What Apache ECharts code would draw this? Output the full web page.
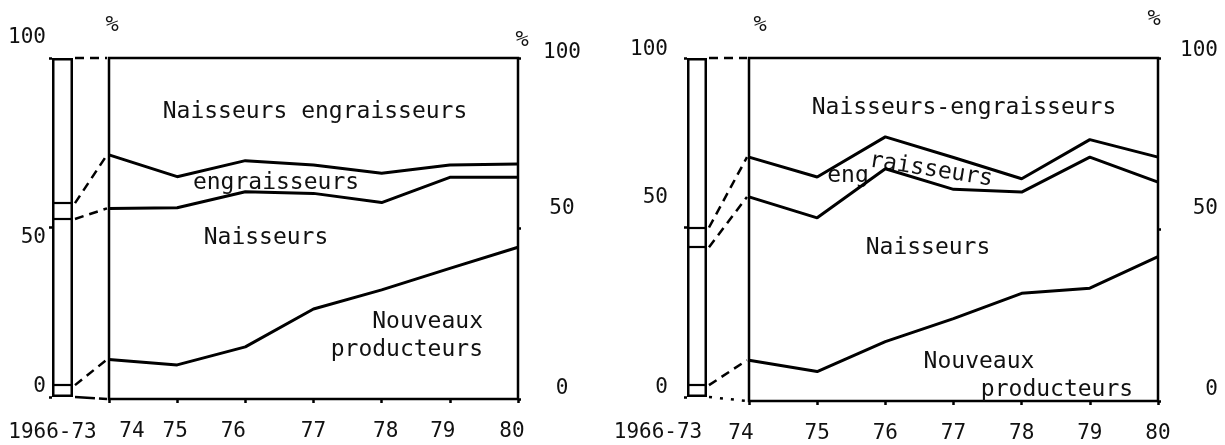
<!DOCTYPE html>
<html><head><meta charset="utf-8">
<script src="https://cdn.jsdelivr.net/npm/echarts@6/dist/echarts.min.js"></script>
<style>html,body{margin:0;padding:0;background:#fff}#c{width:1225px;height:445px}</style>
</head><body><div id="c"></div>
<script>
// ---- data ----
const years = [74, 75, 76, 77, 78, 79, 80];
const periodLabel = '1966-73';
const yTicks = [0, 50, 100];
// left panel: cumulative boundaries (%)
const leftNouveaux = [11.6, 10.0, 15.3, 26.4, 32.0, 38.3, 44.5];
const leftNaisseurs = [55.9, 56.1, 60.8, 60.3, 57.6, 65.0, 65.0];
const leftEngraisseurs = [71.6, 65.2, 69.9, 68.6, 66.2, 68.6, 68.9];
const leftBar = [3.5, 52.5, 57.2];
// right panel: cumulative boundaries (%)
const rightNouveaux = [11.9, 8.6, 17.3, 24.0, 31.4, 32.9, 42.1];
const rightNaisseurs = [59.5, 53.4, 67.7, 61.7, 60.9, 71.1, 63.8];
const rightEngraisseurs = [71.1, 65.3, 77.0, 71.0, 64.8, 76.2, 71.1];
const rightBar = [3.5, 44.2, 50.0];

// ---- layout ----
const FONT = '"DejaVu Sans Mono", monospace';
const L = { bar: {left: 52, top: 58, width: 21, height: 339}, main: {left: 109, top: 58, width: 409, height: 341} };
const R = { bar: {left: 687, top: 58, width: 20, height: 339}, main: {left: 749, top: 58, width: 409, height: 343} };

const chart = echarts.init(document.getElementById('c'), null, {renderer: 'canvas'});

function vPad(d) { return d < 0 ? [0, 0, -2 * d, 0] : [2 * d, 0, 0, 0]; }
function hPad(d) { return d < 0 ? [0, -2 * d, 0, 0] : [0, 0, 0, 2 * d]; }
function richFor(keys, shifts, padFn) {
  const r = {};
  keys.forEach(v => {
    r['s' + v] = { fontSize: 21, fontFamily: FONT, color: '#111', padding: padFn(shifts[v] || 0) };
  });
  return r;
}
function grid(g, border) {
  return Object.assign({ outerBoundsMode: 'none', containLabel: false,
    show: border, borderColor: '#000', borderWidth: 2.5, backgroundColor: 'transparent' }, g);
}
function barX(gi, padRight) {
  return { type: 'category', gridIndex: gi, data: [periodLabel],
    axisLine: {show: false}, axisTick: {show: false},
    axisLabel: { fontSize: 21, fontFamily: FONT, color: '#111', margin: 25, padding: [0, padRight, 0, 0] } };
}
function barY(gi, margin, shifts) {
  return { type: 'value', gridIndex: gi, min: 0, max: 100, interval: 50, position: 'left',
    axisLine: {show: false}, splitLine: {show: false},
    axisTick: {show: true, length: 3, lineStyle: {color: '#000', width: 2.5}},
    axisLabel: { margin: margin, formatter: v => '{s' + v + '|' + v + '}', rich: richFor(yTicks, shifts, vPad) } };
}
function mainX(gi, shifts) {
  return { type: 'value', gridIndex: gi, min: 74, max: 80, interval: 1,
    axisLine: {show: false}, splitLine: {show: false},
    axisTick: {show: true, length: 4, lineStyle: {color: '#000', width: 2.5}},
    axisLabel: { margin: 22, formatter: v => '{s' + v + '|' + v + '}', rich: richFor(years, shifts, hPad) } };
}
function mainY(gi, align, margin, shifts) {
  return { type: 'value', gridIndex: gi, min: 0, max: 100, interval: 50, position: 'right',
    axisLine: {show: false}, splitLine: {show: false},
    axisTick: {show: true, length: 3, lineStyle: {color: '#000', width: 2.5}},
    axisLabel: { align: align, margin: margin, formatter: v => '{s' + v + '|' + v + '}', rich: richFor(yTicks, shifts, vPad) } };
}
function lines(xi, arrays) {
  return arrays.map(a => ({ type: 'line', xAxisIndex: xi, yAxisIndex: xi, symbol: 'none', silent: true,
    data: years.map((y, i) => [y, a[i]]), lineStyle: {color: '#000', width: 3} }));
}
function bar(xi, b) {
  return { type: 'bar', xAxisIndex: xi, yAxisIndex: xi, barWidth: '100%', silent: true,
    data: [100], itemStyle: {color: '#fff', borderColor: '#000', borderWidth: 2.5},
    markLine: { silent: true, symbol: 'none', label: {show: false},
      lineStyle: {color: '#000', width: 2.2, type: 'solid'},
      data: b.map(v => ({yAxis: v})) } };
}

chart.setOption({
  animation: false,
  backgroundColor: '#fff',
  grid: [grid(L.bar, false), grid(L.main, true), grid(R.bar, false), grid(R.main, true)],
  xAxis: [
    barX(0, 20),
    mainX(1, {74: 23, 75: -2, 76: -12, 77: 0, 78: 4, 79: -7, 80: -6}),
    barX(2, 78),
    mainX(3, {74: -8})
  ],
  yAxis: [
    barY(0, 6, {100: -20, 50: 10, 0: -10}),
    mainY(1, 'center', 44, {100: -5, 50: -20, 0: -10}),
    barY(2, 19, {100: -8, 50: -30, 0: -9}),
    mainY(3, 'right', 60, {100: -7, 50: -21, 0: -11})
  ],
  series: [].concat(
    [bar(0, leftBar)],
    lines(1, [leftNouveaux, leftNaisseurs, leftEngraisseurs]),
    [bar(2, rightBar)],
    lines(3, [rightNouveaux, rightNaisseurs, rightEngraisseurs])
  )
});

// ---- connectors & annotations ----
function connectors(barIdx, mainIdx, layout, b, arrs, bottomDash) {
  const out = [];
  const xc = chart.convertToPixel({xAxisIndex: barIdx}, periodLabel);
  const x0 = xc + layout.bar.width / 2 + 2;
  const x1 = chart.convertToPixel({xAxisIndex: mainIdx}, years[0]) - 2;
  const pairs = [[100, 100], [b[2], arrs[2][0]], [b[1], arrs[1][0]], [b[0], arrs[0][0]], [0, 0]];
  pairs.forEach((p, k) => {
    const y0 = chart.convertToPixel({yAxisIndex: barIdx}, p[0]);
    const y1 = chart.convertToPixel({yAxisIndex: mainIdx}, p[1]);
    out.push({ type: 'line', silent: true,
      shape: {x1: x0, y1: y0, x2: x1, y2: y1},
      style: { stroke: '#000', lineWidth: 2.5, lineDash: k === 4 ? bottomDash : [9, 6] } });
  });
  return out;
}
function txt(t, x, y, opts) {
  opts = opts || {};
  return { type: 'text', x: x, y: y, rotation: opts.rot || 0, silent: true,
    style: { text: t, fill: '#111', fontSize: opts.size || 23, fontFamily: FONT,
      fontStyle: opts.italic ? 'italic' : 'normal',
      align: opts.align || 'center', verticalAlign: 'middle' } };
}
const g = [].concat(
  connectors(0, 1, L, leftBar, [leftNouveaux, leftNaisseurs, leftEngraisseurs], [20, 4]),
  connectors(2, 3, R, rightBar, [rightNouveaux, rightNaisseurs, rightEngraisseurs], [3, 8]),
  [
    txt('Naisseurs engraisseurs', 315, 112),
    txt('engraisseurs', 276, 183),
    txt('Naisseurs', 266, 238),
    txt('Nouveaux', 483, 322, {align: 'right'}),
    txt('producteurs', 483, 350, {align: 'right'}),
    txt('%', 112, 25, {size: 22, italic: true}),
    txt('%', 522, 40, {size: 22, italic: true}),
    txt('Naisseurs-engraisseurs', 964, 108),
    txt('eng', 848, 176),
    txt('raisseurs', 931, 170, {rot: -0.155}),
    txt('Naisseurs', 928, 248),
    txt('Nouveaux', 979, 362),
    txt('producteurs', 1057, 390),
    txt('%', 760, 25, {size: 22, italic: true}),
    txt('%', 1154, 19, {size: 22, italic: true})
  ]
);
chart.setOption({graphic: g});
</script>
</body></html>
